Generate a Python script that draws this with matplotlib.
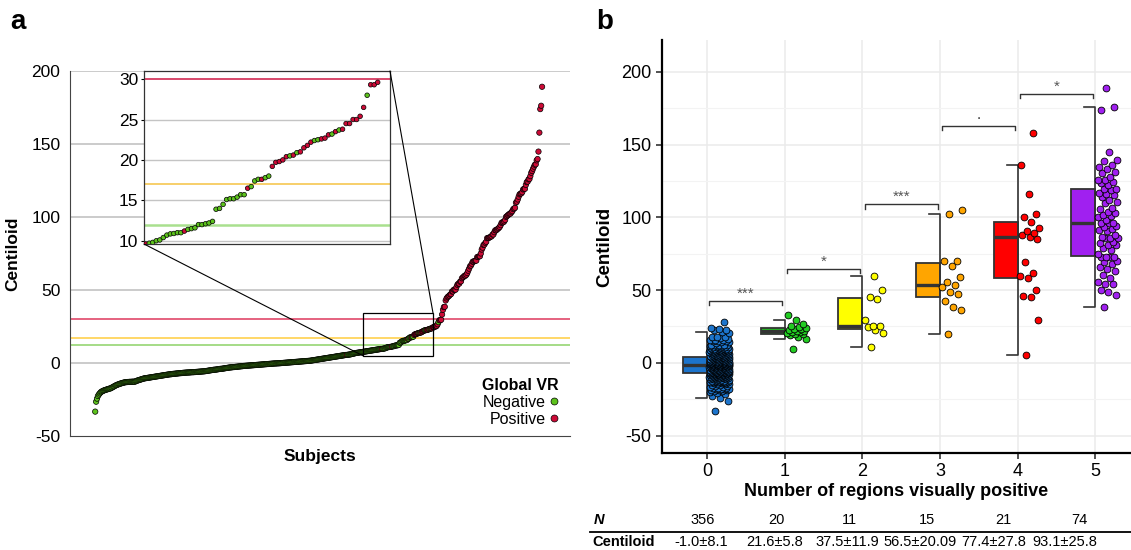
import numpy as np
import matplotlib
matplotlib.use('Agg')
import matplotlib.pyplot as plt
from matplotlib.patches import Rectangle, ConnectionPatch
from matplotlib.lines import Line2D

plt.rcParams['font.family'] = ['Liberation Sans', 'DejaVu Sans']
plt.rcParams['axes.unicode_minus'] = False

# ---------------- data ----------------
group0 = [
    -33.3, -26.5, -24.4, -22.6, -21.6, -20.8, -20.1, -19.6, -19.3, -19.0,
    -18.7, -18.5, -18.3, -18.1, -17.9, -17.7, -17.5, -17.4, -17.0, -16.7,
    -16.3, -16.0, -15.6, -15.3, -15.0, -14.8, -14.5, -14.3, -14.1, -13.9,
    -13.7, -13.5, -13.4, -13.2, -13.1, -13.1, -13.0, -13.0, -12.9, -12.9,
    -12.9, -12.8, -12.8, -12.8, -12.8, -12.5, -12.2, -12.0, -11.8, -11.6,
    -11.4, -11.2, -11.0, -10.8, -10.6, -10.5, -10.4, -10.3, -10.2, -10.1,
    -10.0, -9.9, -9.8, -9.7, -9.6, -9.5, -9.4, -9.3, -9.2, -9.1,
    -9.0, -8.9, -8.8, -8.7, -8.6, -8.5, -8.4, -8.3, -8.2, -8.1,
    -8.0, -7.9, -7.8, -7.7, -7.7, -7.6, -7.5, -7.4, -7.4, -7.3,
    -7.2, -7.2, -7.1, -7.0, -7.0, -6.9, -6.9, -6.8, -6.7, -6.7,
    -6.6, -6.6, -6.5, -6.5, -6.5, -6.4, -6.4, -6.3, -6.3, -6.3,
    -6.2, -6.2, -6.1, -6.1, -6.0, -6.0, -5.9, -5.9, -5.8, -5.8,
    -5.7, -5.7, -5.6, -5.5, -5.4, -5.3, -5.2, -5.1, -5.0, -4.9,
    -4.8, -4.7, -4.6, -4.6, -4.5, -4.4, -4.3, -4.2, -4.1, -4.0,
    -4.0, -3.9, -3.8, -3.7, -3.6, -3.5, -3.4, -3.3, -3.2, -3.1,
    -3.0, -3.0, -2.9, -2.8, -2.8, -2.7, -2.6, -2.6, -2.5, -2.4,
    -2.4, -2.3, -2.2, -2.2, -2.1, -2.0, -2.0, -1.9, -1.9, -1.8,
    -1.8, -1.7, -1.7, -1.6, -1.6, -1.5, -1.5, -1.4, -1.4, -1.3,
    -1.3, -1.2, -1.2, -1.1, -1.1, -1.0, -1.0, -0.9, -0.9, -0.8,
    -0.8, -0.7, -0.7, -0.6, -0.6, -0.5, -0.5, -0.4, -0.4, -0.3,
    -0.3, -0.3, -0.2, -0.2, -0.2, -0.1, -0.1, 0.0, 0.0, 0.1,
    0.1, 0.2, 0.2, 0.3, 0.3, 0.4, 0.4, 0.5, 0.5, 0.6,
    0.6, 0.7, 0.7, 0.8, 0.8, 0.9, 0.9, 1.0, 1.0, 1.1,
    1.1, 1.2, 1.2, 1.3, 1.3, 1.4, 1.4, 1.5, 1.5, 1.6,
    1.7, 1.8, 1.9, 2.0, 2.1, 2.2, 2.3, 2.4, 2.5, 2.6,
    2.7, 2.8, 2.9, 3.0, 3.1, 3.2, 3.3, 3.4, 3.5, 3.6,
    3.7, 3.8, 3.9, 4.0, 4.1, 4.2, 4.3, 4.4, 4.5, 4.6,
    4.7, 4.8, 4.9, 5.0, 5.1, 5.2, 5.3, 5.4, 5.5, 5.6,
    5.7, 5.8, 5.9, 6.0, 6.2, 6.3, 6.5, 6.6, 6.8, 6.9,
    7.0, 7.1, 7.2, 7.3, 7.4, 7.5, 7.6, 7.7, 7.8, 7.9,
    8.0, 8.1, 8.2, 8.3, 8.4, 8.5, 8.6, 8.7, 8.8, 8.9,
    9.0, 9.1, 9.2, 9.3, 9.4, 9.5, 9.6, 9.7, 9.8,
    10.0, 10.1, 10.4, 10.7, 10.85, 10.9, 11.0, 11.0, 11.4, 11.5,
    11.6, 12.0, 12.0, 12.1, 12.2, 12.4, 13.9, 14.0, 14.5, 15.1,
    15.2, 15.2, 15.4, 15.7, 15.7, 16.7, 17.4, 17.6, 17.8, 18.0,
    20.5, 20.9, 22.4, 22.5, 23.2, 23.7, 28.0,
]
group1 = [9.6, 16.5, 17.6, 19.2, 19.8, 20.0, 20.4, 21.0, 21.5, 21.8,
          22.2, 22.6, 23.1, 23.5, 23.8, 24.5, 25.0, 26.5, 29.3, 33.2]
group2 = [11.2, 20.6, 22.7, 24.5, 25.0, 25.4, 29.6, 44.2, 45.6, 50.2, 59.8]
group3 = [19.7, 36.4, 38.3, 42.8, 47.2, 49.0, 52.0, 53.6, 55.9, 59.1,
          66.7, 70.1, 70.1, 102.4, 105.4]
group4 = [5.5, 29.3, 45.1, 46.1, 50.2, 58.6, 59.8, 61.6, 69.4, 85.5,
          86.5, 88.0, 89.6, 90.9, 92.5, 97.0, 100.6, 102.2, 116.2, 135.8, 157.8]
group5 = [38.5, 46.9, 49.0, 50.2, 54.3, 54.3, 55.7, 58.0, 60.5, 63.2,
          64.6, 66.2, 68.0, 69.4, 69.9, 72.6, 72.6, 73.1, 73.1, 75.0,
          77.7, 79.0, 80.9, 81.1, 82.3, 83.0, 85.7, 85.7, 86.1, 86.8,
          88.0, 90.9, 91.4, 92.0, 93.2, 94.4, 96.0, 96.4, 96.4, 98.0,
          100.1, 101.2, 101.7, 103.3, 104.0, 105.8, 106.3, 109.8, 110.5, 112.0,
          113.9, 115.5, 115.9, 117.0, 118.9, 119.3, 119.3, 122.0, 123.9, 124.2,
          125.8, 126.0, 128.0, 130.3, 131.5, 133.1, 134.5, 136.1, 138.8, 139.7,
          144.8, 173.9, 176.2, 189.2]
groups = [group0, group1, group2, group3, group4, group5]
group_ticks = ['0', '1', '2', '3', '4', '5']
n_labels = ['356', '20', '11', '15', '21', '74']
cl_labels = ['-1.0\u00b18.1', '21.6\u00b15.8', '37.5\u00b111.9',
             '56.5\u00b120.09', '77.4\u00b127.8', '93.1\u00b125.8']
sig_labels = ['***', '*', '***', '.', '*']
thresholds = [12, 17, 30]
threshold_colors = ['#9ED97E', '#FFD45C', '#E35675']
status_labels = ['Negative', 'Positive']

group_colors = ['#1C74CC', '#22CC22', '#FFFF00', '#FFA500', '#FF0000', '#A020F0']
neg_color = '#5CC21C'
pos_color = '#CC0A36'

# ---------------- figure ----------------
fig = plt.figure(figsize=(11.31, 5.50), dpi=100)
W, H = 1131.0, 550.0

def px_axes(l, t, r, b):
    return fig.add_axes([l / W, 1 - b / H, (r - l) / W, (b - t) / H])

# ---------- panel a ----------
vals = np.concatenate([np.asarray(g, float) for g in groups])
pos = np.concatenate([np.full(len(g), i >= 1) for i, g in enumerate(groups)])
order = np.argsort(vals, kind='stable')
sv = vals[order]
sp = pos[order]
rank = np.arange(1, len(sv) + 1)
cols = np.where(sp, pos_color, neg_color)

axa = px_axes(70, 71, 570, 436)
axa.set_xlim(-27, 528)
axa.set_ylim(-50, 200)
axa.set_yticks([-50, 0, 50, 100, 150, 200])
axa.set_yticklabels(['-50', '0', '50', '100', '150', '200'])
axa.set_xticks([])
for yv in [0, 50, 100, 150, 200]:
    axa.axhline(yv, color='#BDBDBD', lw=1.1, zorder=0)
for t, c in zip(thresholds, threshold_colors):
    axa.axhline(t, color=c, lw=1.3, zorder=1)
axa.scatter(rank, sv, s=15, c=cols, edgecolors='black', linewidths=0.5, zorder=3)
for s in ['top', 'right']:
    axa.spines[s].set_visible(False)
axa.spines['left'].set_color('#444444')
axa.spines['bottom'].set_color('#444444')
axa.tick_params(axis='y', length=0, pad=7, labelsize=12.5)
axa.set_ylabel('Centiloid', fontsize=12.5, fontweight='bold', labelpad=8)
axa.set_xlabel('Subjects', fontsize=12.5, fontweight='bold', labelpad=9)

handles = [Line2D([], [], ls='', marker='o', ms=5, mfc=neg_color, mec='black', mew=0.5),
           Line2D([], [], ls='', marker='o', ms=5, mfc=pos_color, mec='black', mew=0.5)]
leg = axa.legend(handles, status_labels, title='Global VR', loc='lower right',
                 bbox_to_anchor=(1.0, -0.005), frameon=False, markerfirst=False,
                 fontsize=11.5, handlelength=0.6, handletextpad=0.2,
                 labelspacing=0.12, borderpad=0.2, alignment='right',
                 title_fontproperties={'weight': 'bold', 'size': 11.5})

# zoom rectangle
rx0, rx1, ry0, ry1 = 298, 376, 5, 34
axa.add_patch(Rectangle((rx0, ry0), rx1 - rx0, ry1 - ry0, fill=False,
                        ec='black', lw=0.9, zorder=4))

# inset
axi = px_axes(144, 71, 390, 244)
mask = (sv >= 9.9) & (sv <= 30.5)
axi.set_xlim(rank[mask].min() - 3.5, rank[mask].max() + 3.5)
axi.set_ylim(9.6, 31)
axi.set_yticks([10, 15, 20, 25, 30])
axi.set_xticks([])
for yv in [10, 15, 20, 25]:
    axi.axhline(yv, color='#C4C4C4', lw=1.0, zorder=0)
axi.axhline(thresholds[0], color='#A9E08E', lw=1.8, zorder=1)
axi.axhline(thresholds[1], color='#F5C242', lw=1.1, zorder=1)
axi.axhline(thresholds[2], color='#D53A60', lw=1.3, zorder=1)
axi.scatter(rank, sv, s=11, c=cols, edgecolors='black', linewidths=0.5, zorder=3)
for s in axi.spines.values():
    s.set_color('#333333')
    s.set_linewidth(0.9)
axi.tick_params(axis='y', length=2, pad=2, labelsize=12.5)

for xyA, xyB in [((0, 0), (rx0, ry0)), ((1, 1), (rx1, ry1))]:
    cp = ConnectionPatch(xyA=xyA, coordsA=axi.transAxes, xyB=xyB, coordsB=axa.transData,
                         color='black', lw=0.8)
    fig.add_artist(cp)

# ---------- panel b ----------
axb = px_axes(662, 40, 1131, 453)
axb.set_xlim(-0.58, 5.46)
axb.set_ylim(-62, 222)
axb.set_yticks([-50, 0, 50, 100, 150, 200])
axb.set_yticks([-25, 25, 75, 125, 175], minor=True)
axb.set_xticks(range(len(groups)))
axb.set_xticklabels(group_ticks)
axb.grid(which='major', color='#EBEBEB', lw=1.1, zorder=0)
axb.grid(which='minor', axis='y', color='#F3F3F3', lw=0.8, zorder=0)
axb.set_axisbelow(True)
for s in ['top', 'right']:
    axb.spines[s].set_visible(False)
for s in ['left', 'bottom']:
    axb.spines[s].set_linewidth(1.6)
    axb.spines[s].set_color('black')
axb.tick_params(which='major', length=4, width=1.2, labelsize=13, color='#333333')
axb.tick_params(which='minor', length=0)
axb.set_ylabel('Centiloid', fontsize=13.5, fontweight='bold', labelpad=6)
axb.set_xlabel('Number of regions visually positive', fontsize=13, fontweight='bold', labelpad=2)

bw, cw = 0.31, 0.14
edge = '#333333'
for i, g in enumerate(groups):
    g = np.asarray(g, float)
    q1, med, q3 = np.percentile(g, [25, 50, 75])
    iqr = q3 - q1
    lo = g[g >= q1 - 1.5 * iqr].min()
    hi = g[g <= q3 + 1.5 * iqr].max()
    axb.add_patch(Rectangle((i - bw, q1), bw, q3 - q1, fc=group_colors[i],
                            ec=edge, lw=1.3, zorder=3))
    axb.plot([i - bw, i], [med, med], color=edge, lw=2.4, zorder=4, solid_capstyle='butt')
    axb.plot([i - cw, i, i, i - cw], [lo, lo, hi, hi], color=edge, lw=1.2, zorder=3)
    n = len(g)
    jit = 0.03 + 0.26 * ((np.arange(n) * 0.6180339887 + 0.3) % 1.0)
    axb.scatter(i + jit, g, s=24, c=group_colors[i], edgecolors='black',
                linewidths=0.6, zorder=5)

sig_y = [42.6, 64.6, 109, 163, 185]
for k, (lab, yb) in enumerate(zip(sig_labels, sig_y)):
    x0, x1 = k + 0.03, k + 0.97
    axb.plot([x0, x0, x1, x1], [yb - 3, yb, yb, yb - 3], color='#333333', lw=1.0, zorder=4)
    if lab == '.':
        axb.text(k + 0.5, yb + 5.0, lab, ha='center', va='baseline', fontsize=11, color='#333333')
    else:
        axb.text(k + 0.5, yb + 0.3, lab, ha='center', va='bottom', fontsize=11, color='#555555')

# table
n_x = [703, 776, 849, 927, 1003, 1079]
c_x = [701, 775, 847, 920, 994, 1065]
fig.text(599 / W, 1 - 520 / H, 'N', ha='center', va='center', fontsize=10.5,
         fontweight='bold', fontstyle='italic')
fig.text(592 / W, 1 - 542 / H, 'Centiloid', ha='left', va='center', fontsize=10.5,
         fontweight='bold')
for x, t in zip(n_x, n_labels):
    fig.text(x / W, 1 - 520 / H, t, ha='center', va='center', fontsize=10.5)
for x, t in zip(c_x, cl_labels):
    fig.text(x / W, 1 - 542 / H, t, ha='center', va='center', fontsize=10.5)
fig.add_artist(Line2D([590 / W, 1.0], [1 - 532 / H, 1 - 532 / H], color='black', lw=1.3))

fig.text(18 / W, 1 - 22 / H, 'a', ha='center', va='center', fontsize=20, fontweight='bold')
fig.text(605 / W, 1 - 22 / H, 'b', ha='center', va='center', fontsize=20, fontweight='bold')

fig.savefig('out.png', dpi=100)
